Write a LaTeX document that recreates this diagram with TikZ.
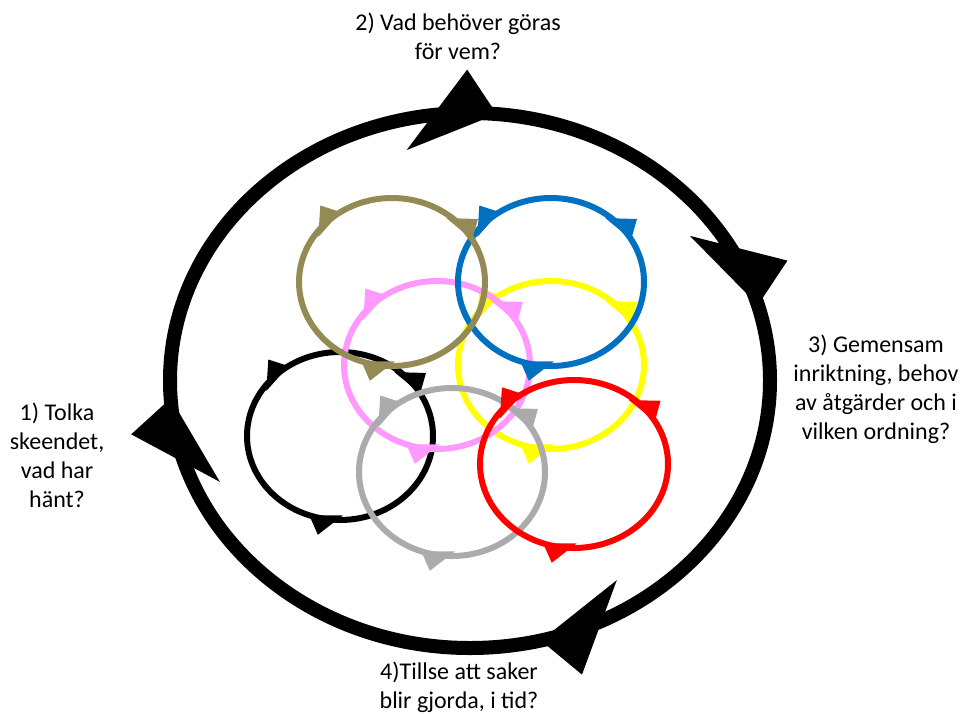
\documentclass[tikz,border=0pt]{standalone}
\usepackage{fontspec}
\setmainfont{Carlito}
\definecolor{ringolive}{HTML}{948A54}
\definecolor{ringblue}{HTML}{0070C0}
\definecolor{ringpink}{HTML}{FF99FF}
\definecolor{ringyellow}{HTML}{FFFF00}
\definecolor{ringgray}{HTML}{ABABAB}
\definecolor{ringred}{HTML}{FF0000}
\usepackage{tikz}
\usetikzlibrary{
  positioning, calc, decorations.markings
}
\newcommand{\bighead}{\fill (0pt,0pt) -- (-33pt,42pt) -- (-87pt,-43pt) -- cycle;}
\newcommand{\smallhead}{\fill (0pt,0pt) -- (-14pt,16pt) -- (-32pt,-10pt) -- cycle;}
\tikzset{
	bigring/.style={
			line width=14pt,
			decoration={markings,
					mark=at position 0.210 with {\bighead},
					mark=at position 0.490 with {\bighead},
					mark=at position 0.765 with {\bighead},
					mark=at position 0.957 with {\bighead}
				},
			postaction={decorate}
		},
	smallring/.style={
			line width=6pt,
			decoration={markings,
					mark=at position 0.306 with {\smallhead},
					mark=at position 0.653 with {\smallhead},
					mark=at position 0.919 with {\smallhead}
				},
			postaction={decorate}
		},
	labelnode/.style={
			align=center,
			inner sep=0pt,
			text=black,
			font=\fontsize{24}{29}\selectfont
		}
}

\begin{document}
\begin{tikzpicture}[x=1pt, y=-1pt]
\useasboundingbox (0,0) rectangle (963,713);
% outer cycle
\draw[bigring, black] (470,380.5) ellipse [x radius=300, y radius=267.5];

% inner cycles
\draw[smallring, black] (340,436) ellipse [x radius=93, y radius=84];
\draw[smallring, ringyellow] (551,365) ellipse [x radius=93, y radius=84];
\draw[smallring, ringpink] (437,365) ellipse [x radius=93, y radius=84];
\draw[smallring, ringgray] (452,472) ellipse [x radius=93, y radius=84];
\draw[smallring, ringblue] (551,282) ellipse [x radius=93, y radius=84];
\draw[smallring, ringolive] (392,282) ellipse [x radius=93, y radius=84];
\draw[smallring, ringred] (574,464) ellipse [x radius=94, y radius=84];

\node[labelnode] (step1) at (57,455) {1) Tolka\\skeendet,\\vad har\\hänt?};
\node[labelnode] (step2) at (458,36) {2) Vad behöver göras\\för vem?};
\node[labelnode] (step3) at (876,389) {3) Gemensam\\inriktning, behov\\av åtgärder och i\\vilken ordning?};
\node[labelnode] (step4) at (459,687) {4)Tillse att saker\\blir gjorda, i tid?};
\end{tikzpicture}
\end{document}
